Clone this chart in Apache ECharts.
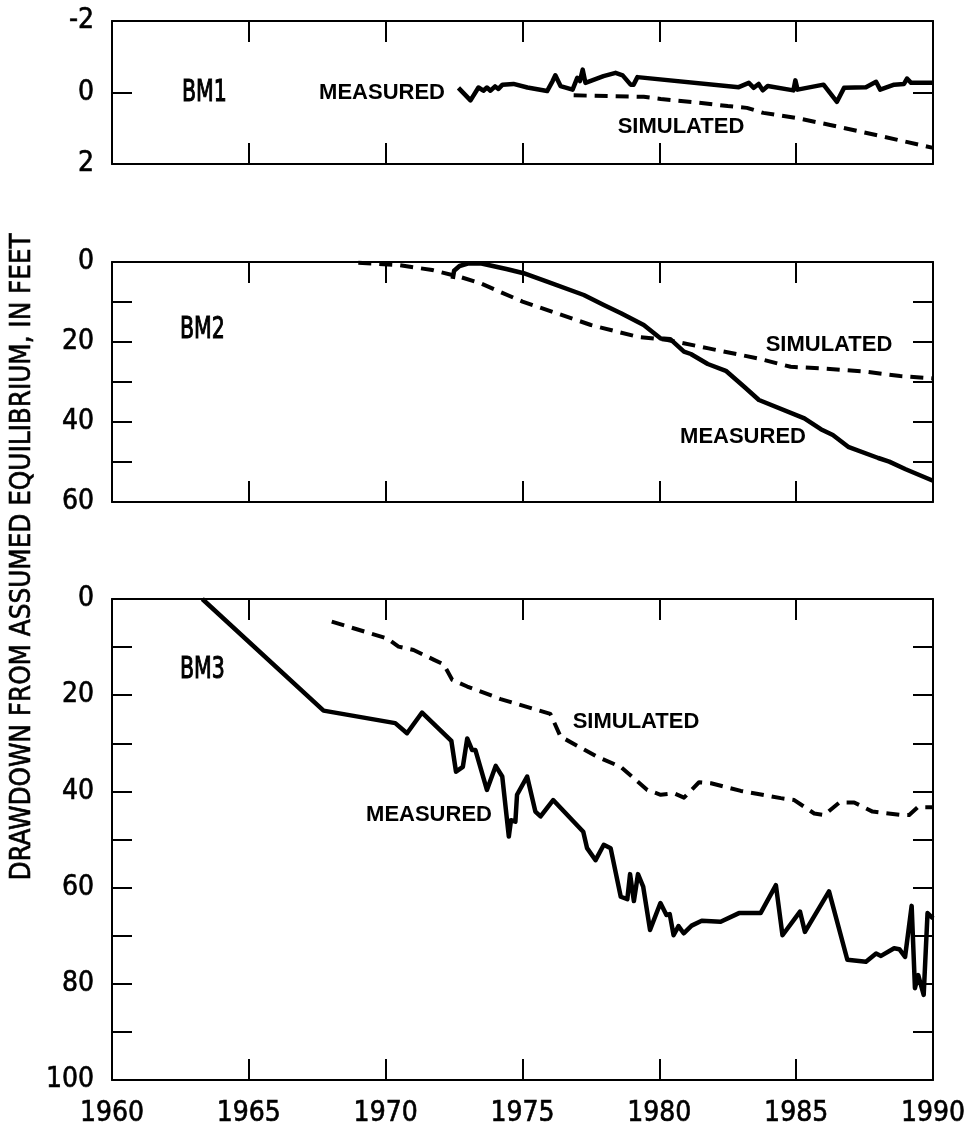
<!DOCTYPE html>
<html>
<head>
<meta charset="utf-8">
<script src="https://cdn.jsdelivr.net/npm/echarts@6/dist/echarts.min.js"></script>
<style>
html,body{margin:0;padding:0;background:#fff;}
#chart{width:973px;height:1134px;}
</style>
</head>
<body>
<div id="chart"></div>
<script>
// x axis (years)
var xMin = 1960, xMax = 1990, xStep = 5;

// BM1 water levels, feet of drawdown (negative = rise)
var bm1Measured = [
  [1972.66,-0.13],[1973.10,0.22],[1973.39,-0.14],[1973.57,-0.05],[1973.70,-0.14],[1973.83,-0.05],
  [1974.00,-0.17],[1974.12,-0.10],[1974.27,-0.22],[1974.67,-0.24],[1975.18,-0.14],[1975.90,-0.04],
  [1976.10,-0.32],[1976.20,-0.48],[1976.39,-0.18],[1976.83,-0.08],[1977.00,-0.41],[1977.10,-0.32],
  [1977.20,-0.64],[1977.30,-0.27],[1977.96,-0.46],[1978.40,-0.55],[1978.66,-0.48],[1978.95,-0.22],
  [1979.06,-0.22],[1979.20,-0.43],[1982.90,-0.15],[1983.27,-0.27],[1983.45,-0.13],[1983.63,-0.24],
  [1983.78,-0.06],[1983.96,-0.18],[1984.90,-0.06],[1984.97,-0.34],[1985.05,-0.08],[1986.00,-0.22],
  [1986.49,0.26],[1986.75,-0.13],[1987.55,-0.15],[1987.92,-0.30],[1988.07,-0.08],[1988.58,-0.22],
  [1988.94,-0.24],[1989.05,-0.39],[1989.20,-0.27],[1990.00,-0.27]
];
var bm1Simulated = [
  [1976.87,0.08],[1979.43,0.12],[1980.05,0.18],[1981.26,0.27],[1982.5,0.38],[1983.2,0.43],
  [1983.8,0.57],[1985.05,0.72],[1986.2,0.9],[1988.1,1.22],[1990,1.55]
];

// BM2
var bm2Measured = [
  [1972.45,4.2],[1972.5,2.2],[1972.7,1.0],[1973.0,0.4],[1973.46,0.3],[1974.45,1.8],[1975.04,2.8],
  [1975.9,4.9],[1977.24,8.25],[1977.97,10.75],[1978.6,12.8],[1979.43,15.75],[1980.05,19.1],
  [1980.4,19.3],[1980.9,22.4],[1981.15,23],[1981.77,25.5],[1982.43,27.2],[1983.1,31.2],
  [1983.64,34.5],[1985.3,39.1],[1985.9,41.8],[1986.34,43.25],[1986.9,46.2],[1988,49],
  [1988.4,49.9],[1989.0,51.8],[1990,54.7]
];
var bm2Simulated = [
  [1969.0,0.2],[1970.5,0.8],[1971.7,2],[1972.7,3.7],[1973.46,5.3],[1975.0,9.9],[1977.5,15.75],
  [1979.2,18.7],[1980.3,19.5],[1981.8,21.6],[1983.6,24.1],[1984.8,26.2],[1985.9,26.6],
  [1987.5,27.4],[1988.8,28.5],[1990,29.1]
];

// BM3
var bm3Measured = [
  [1963.3,0],[1967.73,23.2],[1970.35,25.8],[1970.78,27.9],[1971.33,23.6],[1972.4,29.5],
  [1972.57,35.9],[1972.82,34.9],[1972.98,29],[1973.16,31.4],[1973.28,31.4],[1973.7,39.7],
  [1974.02,34.7],[1974.26,36.9],[1974.5,49.4],[1974.58,46],[1974.74,46.3],[1974.8,40.7],
  [1975.17,36.9],[1975.47,44.2],[1975.66,45.2],[1976.12,41.8],[1977.22,48.4],[1977.36,51.8],
  [1977.67,54.3],[1977.97,51.1],[1978.22,51.8],[1978.59,61.9],[1978.83,62.4],[1978.93,57.2],
  [1979.07,62.8],[1979.22,57.2],[1979.41,59.8],[1979.66,68.8],[1980.04,63.2],[1980.26,65.7],
  [1980.38,65.5],[1980.52,69.9],[1980.7,68],[1980.89,69.5],[1981.18,67.9],[1981.55,66.9],
  [1982.24,67.1],[1982.91,65.3],[1983.7,65.3],[1984.26,59.5],[1984.5,69.9],[1985.14,65],
  [1985.32,69.2],[1986.2,60.8],[1986.87,75],[1987.55,75.4],[1987.92,73.7],[1988.1,74.2],
  [1988.58,72.6],[1988.77,72.8],[1988.98,74.4],[1989.22,63.8],[1989.34,80.9],[1989.46,78.2],
  [1989.66,82.3],[1989.8,65.3],[1990,66.4]
];
var bm3Simulated = [
  [1968.03,4.7],[1970.05,8.2],[1970.47,9.9],[1971.02,10.6],[1971.75,12.6],[1972.12,13.6],
  [1972.43,16.8],[1972.98,18.2],[1974.2,20.8],[1976.02,23.9],[1976.39,28.6],[1977.73,32.8],
  [1978.59,34.9],[1979.56,39.7],[1980.05,40.7],[1980.54,40.4],[1980.9,41.3],[1981.45,38.1],
  [1981.89,38.3],[1982.98,39.9],[1984.44,41.4],[1984.93,41.8],[1985.66,44.6],[1986.03,44.9],
  [1986.58,42.3],[1987.12,42.3],[1987.79,44.2],[1988.83,44.9],[1989.13,44.9],[1989.44,43.3],
  [1990,43.3]
];

// y ranges per panel: [min, max, tick step, label step]
var yRanges = [[-2, 2, 2, 2], [0, 60, 10, 20], [0, 100, 10, 20]];
var panelNames = ['BM1', 'BM2', 'BM3'];
var yTitle = 'DRAWDOWN FROM ASSUMED EQUILIBRIUM, IN FEET';

var FONT = '"DejaVu Sans Condensed", "DejaVu Sans", sans-serif';
var LBL = '"Liberation Sans", Arial, sans-serif';
var grids = [
  {left: 112, width: 821, top: 21, height: 143},
  {left: 112, width: 821, top: 262, height: 240},
  {left: 112, width: 821, top: 599, height: 481}
];

var xAxes = [], yAxes = [];
grids.forEach(function (g, i) {
  var r = yRanges[i];
  var lineStyle = {color: '#000', width: 2};
  var tickFont = {color: '#000', fontSize: 28, fontFamily: FONT, textBorderColor: '#000', textBorderWidth: 0.6};
  [['bottom', i == 2], ['top', false]].forEach(function (p) {
    xAxes.push({
      gridIndex: i, type: 'value', position: p[0], min: xMin, max: xMax, interval: xStep,
      axisLine: {show: true, onZero: false, lineStyle: lineStyle},
      axisTick: {show: true, inside: true, length: 21, lineStyle: lineStyle},
      axisLabel: Object.assign({show: p[1], margin: 20,
        formatter: function (v) { return String(v); }}, tickFont),
      splitLine: {show: false}
    });
  });
  ['left', 'right'].forEach(function (pos) {
    yAxes.push({
      gridIndex: i, type: 'value', position: pos, inverse: true, min: r[0], max: r[1], interval: r[2],
      axisLine: {show: true, onZero: false, lineStyle: lineStyle},
      axisTick: {show: true, inside: true, length: 20, lineStyle: lineStyle},
      axisLabel: Object.assign({show: pos == 'left', margin: 18,
        formatter: function (v) { return v % r[3] == 0 ? String(v) : ''; }}, tickFont),
      splitLine: {show: false}
    });
  });
});

function line(data, i, dashed) {
  return {
    type: 'line', data: data, xAxisIndex: i * 2, yAxisIndex: i * 2,
    showSymbol: false, symbol: 'none', silent: true,
    lineStyle: {color: '#000', width: dashed ? 4 : 4.5, type: dashed ? [13, 8] : 'solid', cap: 'butt', join: 'round'}
  };
}

function txt(s, x, y, font, align, extra, thick) {
  var o = {type: 'text', x: x, y: y, silent: true,
    style: {text: s, font: font, fill: '#000', align: align || 'center', verticalAlign: 'middle'}};
  if (thick) { o.style.stroke = '#000'; o.style.lineWidth = thick; }
  if (extra) for (var k in extra) o[k] = extra[k];
  return o;
}

var labelFont = 'bold 22px ' + LBL;
var nameFont = '30px ' + FONT;

var chart = echarts.init(document.getElementById('chart'));
chart.setOption({
  animation: false,
  backgroundColor: '#fff',
  grid: grids,
  xAxis: xAxes,
  yAxis: yAxes,
  series: [
    line(bm1Measured, 0, false), line(bm1Simulated, 0, true),
    line(bm2Measured, 1, false), line(bm2Simulated, 1, true),
    line(bm3Measured, 2, false), line(bm3Simulated, 2, true)
  ],
  graphic: [
    txt(yTitle, 23, 557, '27.5px ' + FONT, 'center', {rotation: Math.PI / 2}, 0.6),
    txt(panelNames[0], 182, 93, nameFont, 'left', {scaleX: 0.76}, 1),
    txt(panelNames[1], 180, 330, nameFont, 'left', {scaleX: 0.76}, 1),
    txt(panelNames[2], 180, 670, nameFont, 'left', {scaleX: 0.76}, 1),
    txt('MEASURED', 445, 93, labelFont, 'right'),
    txt('SIMULATED', 681, 127, labelFont),
    txt('SIMULATED', 829, 345, labelFont),
    txt('MEASURED', 743, 437, labelFont),
    txt('SIMULATED', 636, 722, labelFont),
    txt('MEASURED', 429, 815, labelFont)
  ]
});
</script>
</body>
</html>
